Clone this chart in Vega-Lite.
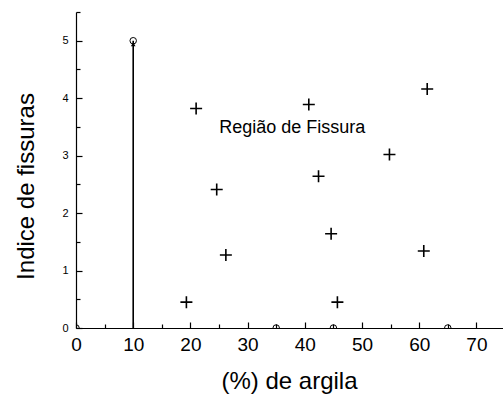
{
  "$schema": "https://vega.github.io/schema/vega-lite/v6.json",
  "width": 429,
  "height": 316,
  "autosize": {"type": "none"},
  "padding": {"left": 76, "top": 12, "right": 0, "bottom": 66},
  "config": {
    "view": {"stroke": null},
    "font": "Liberation Sans",
    "axis": {
      "grid": false,
      "domainColor": "black",
      "tickColor": "black",
      "labelColor": "black",
      "titleColor": "black",
      "domainWidth": 1.2,
      "tickWidth": 1.2,
      "labelFont": "Liberation Sans",
      "titleFont": "Liberation Sans",
      "titleFontWeight": "normal",
      "labelOverlap": false,
      "labelFlush": false,
      "labelBound": false
    }
  },
  "resolve": {"axis": {"x": "independent", "y": "independent"}},
  "datasets": {
    "plus": [
      {"argila": 19.3, "indice": 0.45},
      {"argila": 26.2, "indice": 1.27},
      {"argila": 44.6, "indice": 1.64},
      {"argila": 60.8, "indice": 1.34},
      {"argila": 45.7, "indice": 0.45},
      {"argila": 40.7, "indice": 3.89},
      {"argila": 61.4, "indice": 4.16},
      {"argila": 54.8, "indice": 3.02},
      {"argila": 42.4, "indice": 2.64},
      {"argila": 21.0, "indice": 3.82},
      {"argila": 24.6, "indice": 2.41}
    ],
    "circles": [
      {"argila": 0, "indice": 0},
      {"argila": 35, "indice": 0},
      {"argila": 45, "indice": 0},
      {"argila": 65, "indice": 0},
      {"argila": 10, "indice": 5}
    ],
    "rule": [{"argila": 10, "indice": 0, "indice2": 5}],
    "arrow": [{"argila": 10, "indice": 4.94}],
    "label": [{"argila": 25.05, "indice": 3.39, "texto": "Região de Fissura"}]
  },
  "layer": [
    {
      "data": {"name": "rule"},
      "mark": {"type": "rule", "color": "black", "strokeWidth": 1.6},
      "encoding": {
        "x": {
          "field": "argila", "type": "quantitative",
          "scale": {"domain": [0, 75], "nice": false, "zero": false},
          "axis": {
            "orient": "bottom",
            "values": [0, 10, 20, 30, 40, 50, 60, 70],
            "tickSize": -6,
            "labelFontSize": 19,
            "labelPadding": 13,
            "title": "(%) de argila",
            "titleFontSize": 24,
            "titleX": 213,
            "titleY": 60,
            "titleBaseline": "alphabetic",
            "titleAlign": "center"
          }
        },
        "y": {
          "field": "indice", "type": "quantitative",
          "scale": {"domain": [0, 5.5], "nice": false, "zero": false},
          "axis": {
            "orient": "left",
            "values": [0, 1, 2, 3, 4, 5],
            "format": "d",
            "tickSize": -6,
            "labelFontSize": 11,
            "labelPadding": 14,
            "title": "Indice de fissuras",
            "titleFontSize": 24,
            "titleX": -50,
            "titleY": 174,
            "titleAngle": -90,
            "titleBaseline": "middle",
            "titleAlign": "center"
          }
        },
        "y2": {"field": "indice2"}
      }
    },
    {
      "data": {"name": "plus"},
      "mark": {"type": "point", "shape": "M-1,0H1M0,-1V1", "size": 144, "filled": false, "color": "black", "strokeWidth": 1.6, "opacity": 1},
      "encoding": {
        "x": {
          "field": "argila", "type": "quantitative",
          "axis": {"orient": "bottom", "values": [5, 15, 25, 35, 45, 55, 65], "tickSize": -4, "labels": false, "domain": false, "title": null}
        },
        "y": {
          "field": "indice", "type": "quantitative",
          "axis": {"orient": "left", "values": [0.5, 1.5, 2.5, 3.5, 4.5, 5.5], "tickSize": -4, "labels": false, "domain": false, "title": null}
        }
      }
    },
    {
      "data": {"name": "circles"},
      "mark": {"type": "point", "shape": "circle", "size": 42, "filled": false, "color": "black", "strokeWidth": 1, "opacity": 1, "clip": true},
      "encoding": {
        "x": {"field": "argila", "type": "quantitative", "axis": null},
        "y": {"field": "indice", "type": "quantitative", "axis": null}
      }
    },
    {
      "data": {"name": "arrow"},
      "mark": {"type": "point", "shape": "triangle-up", "size": 22, "filled": true, "color": "black", "opacity": 1},
      "encoding": {
        "x": {"field": "argila", "type": "quantitative", "axis": null},
        "y": {"field": "indice", "type": "quantitative", "axis": null}
      }
    },
    {
      "data": {"name": "label"},
      "mark": {"type": "text", "align": "left", "baseline": "alphabetic", "fontSize": 18, "font": "Liberation Sans", "color": "black"},
      "encoding": {
        "x": {"field": "argila", "type": "quantitative", "axis": null},
        "y": {"field": "indice", "type": "quantitative", "axis": null},
        "text": {"field": "texto"}
      }
    }
  ]
}
